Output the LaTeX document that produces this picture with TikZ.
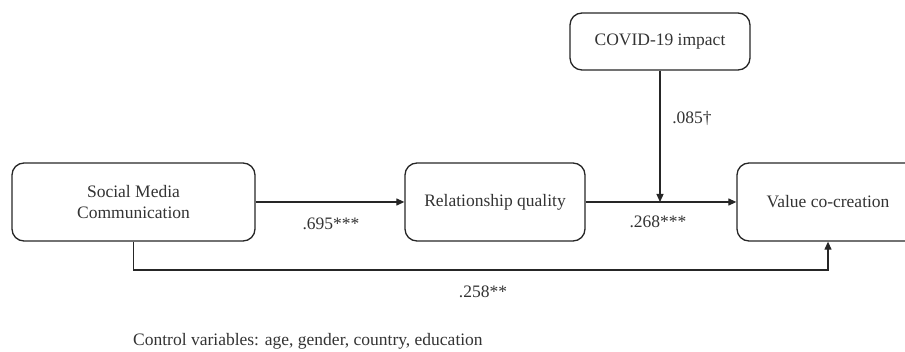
\documentclass[tikz,border=0pt]{standalone}
\usepackage{fontspec}
\setmainfont{Liberation Serif}
\usetikzlibrary{arrows.meta}
\begin{document}
\begin{tikzpicture}[x=1pt,y=-1pt,
  box/.style={draw=black!85, rounded corners=12pt, line width=1.3pt, align=center, inner sep=0pt,
    text=black!80, font=\fontsize{17.5}{21}\selectfont},
  lbl/.style={font=\fontsize{17.5}{21}\selectfont, inner sep=0pt, text=black!80},
  link/.style={draw=black!85, line width=1.2pt, -{Triangle[length=8pt,width=7pt]}}]
\useasboundingbox (0,0) rectangle (905,352);
\clip (0,0) rectangle (905,352);
\node[box, minimum width=243pt, minimum height=78pt] (smc) at (133.5,202) {Social Media\\Communication};
\node[box, minimum width=180pt, minimum height=78pt] (rq) at (495,202) {Relationship quality};
\node[box, minimum width=182pt, minimum height=78pt] (vcc) at (828,202) {Value co-creation};
\node[box, minimum width=180pt, minimum height=57pt] (covid) at (660,41.5) {COVID-19 impact};
\coordinate (m) at (660,202);
\coordinate (b) at (133.5,270);
\draw[link] (smc) -- (rq);
\draw[link] (rq) -- (vcc);
\draw[link] (covid) -- (m);
\draw[link] (smc.south) -- (b) -| (vcc.south);
\node[lbl] (l1) at (331,224) {.695***};
\node[lbl] (l2) at (658,222) {.268***};
\node[lbl] (l3) at (692,118) {.085†};
\node[lbl] (l4) at (483,292) {.258**};
\node[lbl, anchor=base west] (ctrl) at (133,346) {Control variables: age, gender, country, education};
\end{tikzpicture}
\end{document}
